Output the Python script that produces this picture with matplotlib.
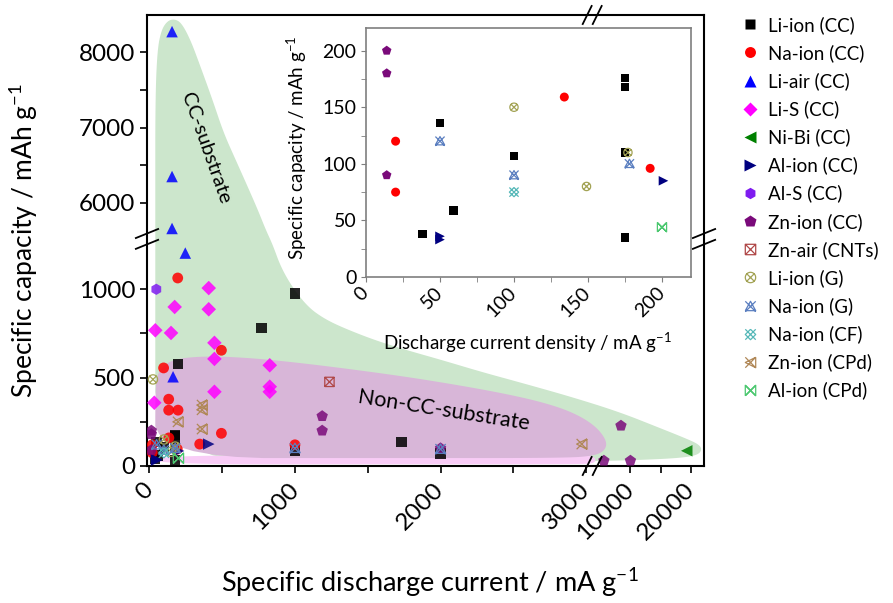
import numpy as np
import matplotlib
matplotlib.use("Agg")
import matplotlib.pyplot as plt
from matplotlib.path import Path
from matplotlib.lines import Line2D
from matplotlib.ticker import FixedLocator, FixedFormatter

plt.rcParams["font.family"] = ["Lato", "DejaVu Sans"]
plt.rcParams["mathtext.default"] = "regular"

# ---- data: specific discharge current (mA/g) and specific capacity (mAh/g) ----
li_ion_cc_i = [50, 38, 59, 100, 175, 175, 175, 175, 1000, 770, 197, 1732, 2000, 1000]
li_ion_cc_c = [136, 38, 59, 107, 176, 168, 110, 35, 976, 781, 578, 134, 70, 88]
na_ion_cc_i = [20, 20, 134, 192, 195, 98, 495, 133, 133, 197, 495, 346, 1000]
na_ion_cc_c = [120, 75, 159, 96, 1064, 555, 655, 378, 316, 316, 185, 124, 120]
li_air_cc_i = [156, 156, 156, 247, 163]
li_air_cc_c = [8274, 6349, 5659, 1205, 505]
li_s_cc_i = [408, 408, 174, 41, 149, 447, 447, 827, 827, 827, 447, 34]
li_s_cc_c = [1007, 887, 900, 768, 753, 697, 606, 570, 449, 420, 420, 358]
ni_bi_cc_i = [19270]
ni_bi_cc_c = [86]
al_ion_cc_i = [50, 50, 201, 408]
al_ion_cc_c = [36, 33, 85, 124]
al_s_cc_i = [48]
al_s_cc_c = [1000]
zn_ion_cc_i = [14, 14, 14, 1187, 1187, 2000, 8490, 5690, 10040]
zn_ion_cc_c = [200, 180, 90, 282, 200, 100, 228, 30, 30]
zn_air_cnt_i = [1237]
zn_air_cnt_c = [476]
li_ion_g_i = [100, 149, 177, 25]
li_ion_g_c = [150, 80, 110, 490]
na_ion_g_i = [50, 100, 178, 1000, 2000]
na_ion_g_c = [120, 90, 100, 100, 95]
na_ion_cf_i = [100]
na_ion_cf_c = [75]
zn_ion_cpd_i = [362, 362, 362, 197, 2970]
zn_ion_cpd_c = [345, 318, 209, 250, 124]
al_ion_cpd_i = [200]
al_ion_cpd_c = [44]

# outlines of the two shaded regions (current, capacity)
cc_region_i = [41, 41, 41, 41, 55, 83, 124, 172, 221, 283, 352, 434, 510, 593, 676,
               745, 800, 848, 903, 986, 1090, 1193, 1317, 1545, 1766, 2007, 2283,
               2559, 2903, 8278, 14867, 18986, 21127, 21786, 21127, 18162, 11572,
               4488, 2834, 1731]
cc_region_c = [17, 939, 6040, 7368, 8032, 8297, 8416, 8443, 8390, 8164, 7806, 7368,
               6930, 6571, 6212, 5907, 5641, 1251, 1126, 1007, 900, 838, 787, 713,
               656, 600, 532, 470, 390, 305, 215, 158, 125, 96, 62, 45, 34, 28, 23, 17]
noncc_region_i = [41, 41, 62, 117, 214, 421, 697, 972, 1317, 1731, 2076, 2421, 2697,
                  2903, 4159, 6136, 5971, 4159, 2834, 1731]
noncc_region_c = [45, 458, 532, 583, 611, 622, 611, 589, 555, 509, 464, 413, 362,
                  306, 232, 147, 91, 57, 45, 45]
band_region_i = [41, 41, 1500, 2950, 4300, 4300, 2950, 1500]
band_region_c = [10, 60, 60, 60, 55, 15, 10, 10]

# ---- broken axes as piecewise linear scales ----
XB, XT, KX = 3030.0, 3500.0, 0.0419
YB, YT, KY = 1285.0, 5520.0, 0.426


def fwd_x(v):
    v = np.asarray(v, float)
    return np.where(v <= XB, v, np.where(v >= XT, XB + (v - XT) * KX, XB))


def inv_x(u):
    u = np.asarray(u, float)
    return np.where(u <= XB, u, XT + (u - XB) / KX)


def fwd_y(v):
    v = np.asarray(v, float)
    return np.where(v <= YB, v, np.where(v >= YT, YB + (v - YT) * KY, YB))


def inv_y(u):
    u = np.asarray(u, float)
    return np.where(u <= YB, u, YT + (u - YB) / KY)


def smooth_outline(xs, ys, n_iter=3):
    # Chaikin smoothing in scaled space, mapped back to data units
    px = fwd_x(xs)
    py = fwd_y(ys) * 1.215  # keep aspect close to the screen
    pts = np.column_stack([px, py])
    for _ in range(n_iter):
        nxt = np.roll(pts, -1, axis=0)
        q = 0.75 * pts + 0.25 * nxt
        r = 0.25 * pts + 0.75 * nxt
        pts = np.empty((len(pts) * 2, 2))
        pts[0::2] = q
        pts[1::2] = r
    return inv_x(pts[:, 0]), inv_y(pts[:, 1] / 1.215)


def line_marker(*polys):
    verts, codes = [], []
    for poly in polys:
        verts += poly
        codes += [Path.MOVETO] + [Path.LINETO] * (len(poly) - 1)
    return Path(verts, codes)


sq = [(-1, -1), (1, -1), (1, 1), (-1, 1), (-1, -1)]
xa = [(-1, -1), (1, 1)]
xb = [(-1, 1), (1, -1)]
xs_ = [(-0.7, -0.7), (0.7, 0.7)]
xt_ = [(-0.7, 0.7), (0.7, -0.7)]
ang = np.linspace(0, 2 * np.pi, 25)
circ = [(0.9 * np.cos(a), 0.9 * np.sin(a)) for a in ang]
tri_up = [(-1, -0.8), (1, -0.8), (0, 1), (-1, -0.8)]
tri_l = [(1, 1), (1, -1), (-1, 0), (1, 1)]
diam = [(0, 1), (1, 0), (0, -1), (-1, 0), (0, 1)]
bow = [(-1, -1), (-1, 1), (1, -1), (1, 1), (-1, -1)]

series = [
    ("Li-ion (CC)", li_ion_cc_i, li_ion_cc_c, "s", "black", True, 1.0),
    ("Na-ion (CC)", na_ion_cc_i, na_ion_cc_c, "o", "#ff0000", True, 1.1),
    ("Li-air (CC)", li_air_cc_i, li_air_cc_c, "^", "#0000ff", True, 1.25),
    ("Li-S (CC)", li_s_cc_i, li_s_cc_c, "D", "#ff00ff", True, 1.0),
    ("Ni-Bi (CC)", ni_bi_cc_i, ni_bi_cc_c, "<", "#008000", True, 1.25),
    ("Al-ion (CC)", al_ion_cc_i, al_ion_cc_c, ">", "#000080", True, 1.25),
    ("Al-S (CC)", al_s_cc_i, al_s_cc_c, "h", "#7f1cf0", True, 1.2),
    ("Zn-ion (CC)", zn_ion_cc_i, zn_ion_cc_c, "p", "#7a0a7a", True, 1.35),
    ("Zn-air (CNTs)", zn_air_cnt_i, zn_air_cnt_c, line_marker(sq, xa, xb), "#b04848", False, 0.9),
    ("Li-ion (G)", li_ion_g_i, li_ion_g_c, line_marker(circ, xs_, xt_), "#a3a355", False, 0.9),
    ("Na-ion (G)", na_ion_g_i, na_ion_g_c, line_marker(tri_up, xa, xb), "#5b7fc0", False, 1.1),
    ("Na-ion (CF)", na_ion_cf_i, na_ion_cf_c, line_marker(diam, xa, xb), "#55b8b8", False, 1.1),
    ("Zn-ion (CPd)", zn_ion_cpd_i, zn_ion_cpd_c, line_marker(tri_l, xa, xb), "#b08858", False, 1.1),
    ("Al-ion (CPd)", al_ion_cpd_i, al_ion_cpd_c, line_marker(bow, xa, xb), "#4cc870", False, 1.1),
]

fig = plt.figure(figsize=(8.93, 6.03), dpi=100)
ax = fig.add_axes([147 / 893, 137 / 603, 557 / 893, 451 / 603])
ax.set_xscale("function", functions=(fwd_x, inv_x))
ax.set_yscale("function", functions=(fwd_y, inv_y))
ax.set_xlim(-16, 22100)
ax.set_ylim(0, 8495)

# shaded regions
gx, gy = smooth_outline(cc_region_i, cc_region_c)
ax.fill(gx, gy, color="#cce6cc", lw=0, zorder=1)
bx, by = smooth_outline(band_region_i, band_region_c)
ax.fill(bx, by, color="#f8ccf6", lw=0, zorder=1.5)
mx, my = smooth_outline(noncc_region_i, noncc_region_c)
ax.fill(mx, my, color="#d8b6d8", lw=0, zorder=2)

ax.text(0.106, 0.705, "CC-substrate", transform=ax.transAxes, rotation=-70.5,
        ha="center", va="center", rotation_mode="anchor", fontsize=14.5, zorder=3)
ax.text(0.533, 0.122, "Non-CC-substrate", transform=ax.transAxes, rotation=-9,
        ha="center", va="center", rotation_mode="anchor", fontsize=15.5, zorder=3)

for label, xv, yv, mk, col, filled, sc in series:
    if filled:
        ax.scatter(xv, yv, marker=mk, s=55 * sc, color=col, edgecolors="none",
                   alpha=0.85, zorder=4)
    else:
        ax.scatter(xv, yv, marker=mk, s=50 * sc, facecolors="none", edgecolors=col,
                   linewidths=0.9, zorder=4)

ax.xaxis.set_major_locator(FixedLocator([0, 1000, 2000, 3000, 10000, 20000]))
ax.xaxis.set_major_formatter(FixedFormatter(["0", "1000", "2000", "3000", "10000", "20000"]))
ax.xaxis.set_minor_locator(FixedLocator([500, 1500, 2500, 15000]))
ax.yaxis.set_major_locator(FixedLocator([0, 500, 1000, 6000, 7000, 8000]))
ax.yaxis.set_major_formatter(FixedFormatter(["0", "500", "1000", "6000", "7000", "8000"]))
ax.yaxis.set_minor_locator(FixedLocator([250, 750, 6500, 7500]))
ax.tick_params(which="both", direction="out", length=5, width=1.2, labelsize=17.5)
ax.tick_params(axis="x", which="major", pad=10)
plt.setp(ax.get_xticklabels(), rotation=45, ha="right", va="center",
         rotation_mode="anchor")
for sp in ax.spines.values():
    sp.set_linewidth(1.5)

ax.set_xlabel("Specific discharge current / mA g$^{-1}$", fontsize=19.5)
ax.xaxis.set_label_coords(0.508, -0.222)
ax.set_ylabel("Specific capacity / mAh g$^{-1}$", fontsize=19)
ax.yaxis.set_label_coords(-0.192, 0.5)

# axis break marks
brk = dict(color="black", lw=1.3, clip_on=False, zorder=10, transform=ax.transAxes)
xbk = (fwd_x(XB) - fwd_x(-16)) / (fwd_x(22100) - fwd_x(-16))
ybk = (fwd_y(YB) - fwd_y(0)) / (fwd_y(8495) - fwd_y(0))
for yy in (0.0, 1.0):
    for dx in (-0.006, 0.012):
        ax.plot([xbk + dx - 0.008, xbk + dx + 0.008], [yy - 0.02, yy + 0.02], **brk)
for xx in (0.0, 1.0):
    for dy in (-0.012, 0.012):
        ax.plot([xx - 0.02, xx + 0.02], [ybk + dy - 0.01, ybk + dy + 0.01], **brk)

# inset: low-current detail
ins = fig.add_axes([366 / 893, 326 / 603, 325 / 893, 249 / 603])
ins.set_facecolor("white")
for label, xv, yv, mk, col, filled, sc in series:
    if filled:
        ins.scatter(xv, yv, marker=mk, s=38 * sc, color=col, edgecolors="none", zorder=4)
    else:
        ins.scatter(xv, yv, marker=mk, s=40 * sc, facecolors="none", edgecolors=col,
                    linewidths=0.9, zorder=4)
ins.set_xlim(0, 219.6)
ins.set_ylim(0, 220)
ins.set_xticks([0, 50, 100, 150, 200])
ins.set_yticks([0, 50, 100, 150, 200])
ins.set_xticks([25, 75, 125, 175], minor=True)
ins.set_yticks([25, 75, 125, 175], minor=True)
ins.tick_params(which="both", direction="out", length=3.5, color="#7f7f7f", labelsize=14)
ins.tick_params(axis="x", which="major", pad=6)
plt.setp(ins.get_xticklabels(), rotation=45, ha="right", va="center", rotation_mode="anchor")
for sp in ins.spines.values():
    sp.set_color("#7f7f7f")
    sp.set_linewidth(1.2)
ins.set_xlabel("Discharge current density / mA g$^{-1}$", fontsize=13.5)
ins.xaxis.set_label_coords(0.498, -0.215)
ins.set_ylabel("Specific capacity / mAh g$^{-1}$", fontsize=13.5)
ins.yaxis.set_label_coords(-0.175, 0.518)

# legend
handles = []
for label, xv, yv, mk, col, filled, sc in series:
    if filled:
        h = Line2D([], [], ls="none", marker=mk, markersize=7.5 * sc ** 0.5, color=col,
                   markeredgecolor="none", label=label)
    else:
        h = Line2D([], [], ls="none", marker=mk, markersize=7.5, markerfacecolor="none",
                   markeredgecolor=col, markeredgewidth=0.9, label=label)
    handles.append(h)
fig.legend(handles=handles, loc="upper left", bbox_to_anchor=(739 / 893, 1 - 16 / 603),
           frameon=False, fontsize=13.5, labelspacing=0.545, handletextpad=0.35,
           handlelength=1.2, borderaxespad=0, borderpad=0)

fig.savefig("out.png", dpi=100)
